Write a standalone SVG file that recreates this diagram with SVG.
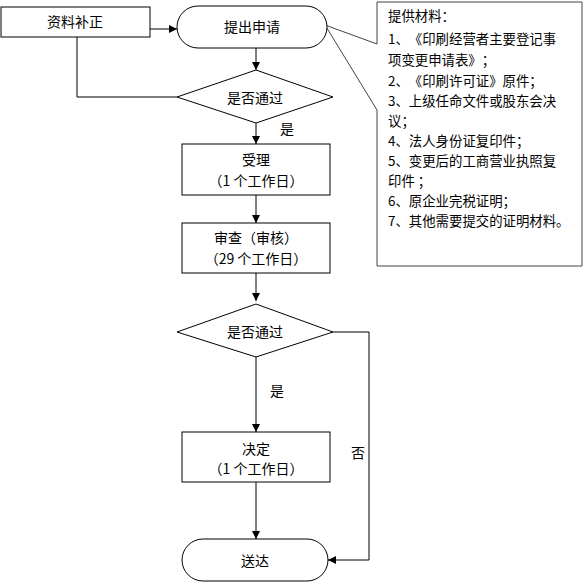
<svg xmlns="http://www.w3.org/2000/svg" width="584" height="584" viewBox="0 0 584 584">
<style>
.s{fill:#fff;stroke:#000;stroke-width:1}
.c{fill:none;stroke:#000;stroke-width:1}
text{font-family:"Noto Sans CJK SC","Noto Sans CJK JP",sans-serif;font-size:14px;fill:#000;text-spacing-trim:space-all}
.m{text-anchor:middle;dominant-baseline:central}
.n{font-size:13.4px;dominant-baseline:central}
</style>
<defs>
<marker id="a" markerUnits="userSpaceOnUse" markerWidth="10" markerHeight="10" refX="8" refY="4" orient="auto">
<path d="M0,0 L8,4 L0,8 Z" fill="#000"/>
</marker>
</defs>
<g id="connectors">
<path class="c" d="M150,29 H177" marker-end="url(#a)"/>
<path class="c" d="M256,48 V70" marker-end="url(#a)"/>
<path class="c" d="M177,97 H77 V37"/>
<path class="c" d="M256,123 V144" marker-end="url(#a)"/>
<path class="c" d="M256,195 V223" marker-end="url(#a)"/>
<path class="c" d="M256,273 V301" marker-end="url(#a)"/>
<path class="c" d="M256,357 V432" marker-end="url(#a)"/>
<path class="c" d="M256,482 V539" marker-end="url(#a)"/>
<path class="c" d="M333,332 H369 V560 H328" marker-end="url(#a)"/>
<text x="287" y="128" class="m">是</text>
<text x="277" y="390" class="m">是</text>
<text x="358" y="452" class="m">否</text>
</g>
<g id="n-buzheng">
<rect class="s" x="1" y="7" width="149" height="30"/>
<text x="75" y="21" class="m">资料补正</text>
</g>
<g id="n-callout">
<path d="M377,110 V266 H582 V2 H377 V44 L325,25 Z" fill="#fff" stroke="#444" stroke-width="1"/>
<text x="388" y="15" class="n">提供材料：</text>
<text x="388" y="38" class="n">1、《印刷经营者主要登记事</text>
<text x="388" y="59" class="n">项变更申请表》；</text>
<text x="388" y="80" class="n">2、《印刷许可证》原件；</text>
<text x="388" y="100" class="n">3、上级任命文件或股东会决</text>
<text x="388" y="120" class="n">议；</text>
<text x="388" y="140" class="n">4、法人身份证复印件；</text>
<text x="388" y="160" class="n">5、变更后的工商营业执照复</text>
<text x="388" y="180" class="n">印件 ；</text>
<text x="388" y="200" class="n">6、原企业完税证明；</text>
<text x="388" y="220" class="n">7、其他需要提交的证明材料。</text>
</g>
<g id="n-tichu">
<rect class="s" x="177" y="6" width="150" height="42" rx="21" ry="21"/>
<text x="252" y="26" class="m">提出申请</text>
</g>
<g id="n-d1">
<polygon class="s" points="256,70 333,97 256,123 177,97"/>
<text x="255" y="97" class="m">是否通过</text>
</g>
<g id="n-shouli">
<rect class="s" x="182" y="144" width="148" height="51"/>
<text x="256" y="159" class="m">受理</text>
<text x="256" y="180" class="m">（1 个工作日）</text>
</g>
<g id="n-shencha">
<rect class="s" x="182" y="223" width="148" height="50"/>
<text x="256" y="237" class="m">审查（审核）</text>
<text x="256" y="258" class="m">（29 个工作日）</text>
</g>
<g id="n-d2">
<polygon class="s" points="256,304 333,332 256,357 177,332"/>
<text x="255" y="331" class="m">是否通过</text>
</g>
<g id="n-jueding">
<rect class="s" x="182" y="432" width="148" height="50"/>
<text x="256" y="448" class="m">决定</text>
<text x="256" y="468" class="m">（1 个工作日）</text>
</g>
<g id="n-songda">
<rect class="s" x="182" y="539" width="146" height="42" rx="21" ry="21"/>
<text x="255" y="560" class="m">送达</text>
</g>
</svg>
